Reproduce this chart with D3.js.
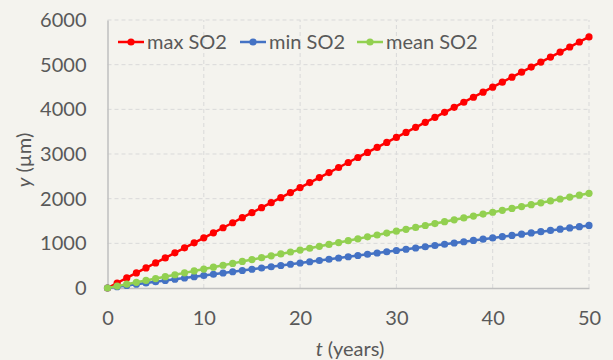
<!DOCTYPE html>
<html>
<head>
<meta charset="utf-8">
<script src="https://cdn.jsdelivr.net/npm/d3@7"></script>
<style>
    body { margin: 0; background: #f4f3ee; }
    svg { display: block; font-family: Lato, "Open Sans", sans-serif; }
</style>
</head>
<body>
<svg id="chart" width="613" height="360"></svg>
<script>
/***************************************************************
    Data
****************************************************************/
const years = [0, 1, 2, 3, 4, 5, 6, 7, 8, 9, 10, 11, 12, 13, 14, 15, 16, 17, 18, 19, 20,
    21, 22, 23, 24, 25, 26, 27, 28, 29, 30, 31, 32, 33, 34, 35, 36, 37, 38, 39, 40,
    41, 42, 43, 44, 45, 46, 47, 48, 49, 50];
const maxSO2 = [0, 112, 225, 337, 450, 562, 674, 787, 899, 1012, 1124, 1236, 1349, 1461, 1574, 1686,
    1798, 1911, 2023, 2136, 2248, 2360, 2473, 2585, 2698, 2810, 2922, 3035, 3147, 3260, 3372,
    3484, 3597, 3709, 3822, 3934, 4046, 4159, 4271, 4384, 4496, 4608, 4721, 4833, 4946, 5058,
    5170, 5283, 5395, 5508, 5620];
const minSO2 = [0, 28, 56, 84, 112, 140, 168, 196, 224, 252, 280, 308, 336, 364, 392, 420, 448, 476,
    504, 532, 560, 588, 616, 644, 672, 700, 728, 756, 784, 812, 840, 868, 896, 924, 952, 980,
    1008, 1036, 1064, 1092, 1120, 1148, 1176, 1204, 1232, 1260, 1288, 1316, 1344, 1372, 1400];
const meanSO2 = [0, 42, 85, 127, 170, 212, 254, 297, 339, 382, 424, 466, 509, 551, 594, 636, 678,
    721, 763, 806, 848, 890, 933, 975, 1018, 1060, 1102, 1145, 1187, 1230, 1272, 1314, 1357,
    1399, 1442, 1484, 1526, 1569, 1611, 1654, 1696, 1738, 1781, 1823, 1866, 1908, 1950, 1993,
    2035, 2078, 2120];
const seriesNames = ["max SO2", "min SO2", "mean SO2"];
const seriesColors = ["#ff0000", "#4472c4", "#92d050"];
const xTicks = [0, 10, 20, 30, 40, 50];
const yTicks = [0, 1000, 2000, 3000, 4000, 5000, 6000];

/***************************************************************
    Chart
****************************************************************/
const svg = d3.select("#chart");
const x = d3.scaleLinear().domain([0, 50]).range([107.5, 589]);
const y = d3.scaleLinear().domain([0, 6000]).range([288, 20]);

// gridlines
svg.append("g").selectAll("line").data(yTicks.slice(1)).enter().append("line")
    .attr("x1", x(0)).attr("x2", x(50))
    .attr("y1", d => y(d)).attr("y2", d => y(d))
    .attr("stroke", "#d9d9d9").attr("stroke-dasharray", "4,3");
svg.append("g").selectAll("line").data(xTicks.slice(1)).enter().append("line")
    .attr("x1", d => x(d)).attr("x2", d => x(d))
    .attr("y1", y(0)).attr("y2", y(6000))
    .attr("stroke", "#d9d9d9").attr("stroke-dasharray", "4,3");

// axes
const yAxis = svg.append("g").attr("transform", `translate(${x(0)},0)`)
    .call(d3.axisLeft(y).tickValues(yTicks).tickFormat(d3.format("d")).tickSize(0).tickPadding(21));
const xAxis = svg.append("g").attr("transform", `translate(0,${y(0)})`)
    .call(d3.axisBottom(x).tickValues(xTicks).tickFormat(d3.format("d")).tickSize(0).tickPadding(23));
[yAxis, xAxis].forEach(a => {
    a.select(".domain").attr("stroke", "#bfbfbf").attr("stroke-width", 1.5);
    a.selectAll("text").attr("fill", "#595959").style("font-size", "20px")
        .style("font-family", "Lato, 'Open Sans', sans-serif");
});

// series
const allSeries = [maxSO2, minSO2, meanSO2];
const line = d3.line().x((d, i) => x(years[i])).y(d => y(d));
allSeries.forEach((vals, k) => {
    const g = svg.append("g");
    g.append("path").datum(vals).attr("d", line)
        .attr("fill", "none").attr("stroke", seriesColors[k]).attr("stroke-width", 2.5);
    g.selectAll("circle").data(vals).enter().append("circle")
        .attr("cx", (d, i) => x(years[i])).attr("cy", d => y(d))
        .attr("r", 3.6).attr("fill", seriesColors[k]);
});

// legend
const legendX = [118, 240, 357];
const legend = svg.append("g");
seriesNames.forEach((name, k) => {
    const lg = legend.append("g").attr("transform", `translate(${legendX[k]},42)`);
    lg.append("line").attr("x1", 0).attr("x2", 26).attr("stroke", seriesColors[k]).attr("stroke-width", 2.5);
    lg.append("circle").attr("cx", 13).attr("r", 3.6).attr("fill", seriesColors[k]);
    lg.append("text").attr("x", 29).attr("dy", "0.35em").attr("fill", "#595959")
        .style("font-size", "20px").text(name);
});

// axis titles
const yTitle = svg.append("text").attr("transform", "translate(31,160) rotate(-90)")
    .attr("text-anchor", "middle").attr("fill", "#595959").style("font-size", "20px");
yTitle.append("tspan").style("font-style", "italic").text("y");
yTitle.append("tspan").text(" (µm)");

const xTitle = svg.append("text").attr("x", 350).attr("y", 356)
    .attr("text-anchor", "middle").attr("fill", "#595959").style("font-size", "20px");
xTitle.append("tspan").style("font-style", "italic").text("t");
xTitle.append("tspan").text(" (years)");
</script>
</body>
</html>
